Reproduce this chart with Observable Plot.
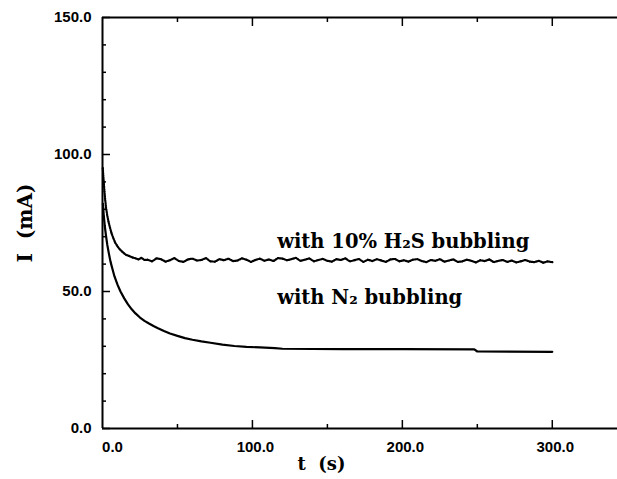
<!DOCTYPE html>
<html><head><meta charset="utf-8">
<script src="https://cdn.jsdelivr.net/npm/d3@7"></script>
<script src="https://cdn.jsdelivr.net/npm/@observablehq/plot@0.6"></script>
<style>body{margin:0;background:#fff}</style>
</head><body><div id="chart"></div>
<script>
// With N2 bubbling: time (s) and current (mA)
const n2T = [0.3, 0.8, 1.5, 2.3, 3.2, 4.2, 5.3, 6.5, 8, 10, 12, 14.5, 17, 19.5, 22, 25, 28, 31, 34, 37, 41, 45, 50, 55, 60, 66, 72, 80, 88, 96, 105, 115, 120, 160, 200, 248, 250, 300];
const n2I = [82, 78, 74, 70.5, 67, 64, 61, 58.5, 55.5, 52.5, 50, 47.5, 45.3, 43.5, 42, 40.5, 39.3, 38.3, 37.4, 36.6, 35.6, 34.7, 33.8, 33, 32.4, 31.8, 31.3, 30.6, 30.1, 29.8, 29.6, 29.3, 29.1, 29.0, 29.0, 28.9, 28.1, 28.0];

// With 10% H2S bubbling: time (s) and current (mA)
const h2sT = [0.2, 0.5, 0.9, 1.3, 1.8, 2.4, 3.1, 4, 5, 6, 7.2, 8.5, 10, 11.5, 13, 14.5, 16, 18, 20, 22, 24, 26, 28,
  30, 33, 36, 39, 42, 45, 48, 51, 54, 57, 60, 63, 66, 69, 72, 75, 78, 81, 84, 87, 90, 93, 96, 99, 102, 105, 108, 111, 114, 117,
  120, 123, 126, 129, 132, 135, 138, 141, 144, 147, 150, 153, 156, 159, 162, 165, 168, 171, 174, 177, 180, 183, 186, 189, 192, 195,
  198, 201, 204, 207, 210, 213, 216, 219, 222, 225, 228, 231, 234, 237, 240, 243, 246, 249, 252, 255, 258, 261, 264, 267, 270, 273,
  276, 279, 282, 285, 288, 291, 294, 297, 300];
const h2sI = [95, 92.5, 89.5, 86.5, 83.5, 80.5, 78, 75.5, 73.3, 71.3, 69.5, 67.8, 66.5, 65.4, 64.6, 63.9, 63.3, 62.9, 62.4, 62.1, 61.7, 62.3, 61.5,
  61.6, 61.0, 62.1, 61.8, 60.9, 61.4, 62.2, 61.1, 60.8, 61.7,
  62.0, 61.3, 61.5, 62.2, 61.0, 60.9, 61.8, 61.4, 62.0, 61.1,
  61.3, 62.1, 61.6, 60.8, 61.5, 62.0, 61.2, 61.7, 61.1, 62.2,
  62.0, 61.4, 61.8, 62.3, 61.2, 61.6, 62.1, 61.0, 61.5, 61.9,
  61.2, 60.9, 61.8, 61.5, 62.1, 61.0, 61.4, 61.9, 60.8, 61.6,
  61.1, 61.8, 61.3, 60.8, 61.7, 61.9, 61.0, 61.4, 60.9, 61.6,
  61.8, 61.1, 60.7, 61.5, 61.2, 61.8, 60.9, 61.3, 61.7, 60.8,
  61.0, 61.6, 61.2, 60.6, 61.4, 61.1, 61.7, 60.7, 61.2, 61.5,
  60.8, 61.3, 60.6, 61.0, 61.5, 60.9, 60.7, 61.2, 60.5, 61.0,
  60.7];

// Ticks
const xMajor = [100, 200, 300];
const xMinor = [50, 150, 250];
const xLabels = [100, 200, 300];
const yMajor = [0, 50, 100, 150];
const yMinor = [10, 20, 30, 40, 60, 70, 80, 90, 110, 120, 130, 140];

// Annotations
const notes = [
  {t: 116.5, I: 68.3, text: "with 10% H\u2082S bubbling"},
  {t: 116.5, I: 47.8, text: "with N\u2082 bubbling"}
];

const n2 = n2T.map((t, i) => ({t, I: n2I[i]}));
const h2s = h2sT.map((t, i) => ({t, I: h2sI[i]}));
const fmt = d => d.toFixed(1);
const tickFont = {fontFamily: "Liberation Sans, Arial, sans-serif", fontWeight: "bold", fontSize: 15};
const serif = {fontFamily: "DejaVu Serif, serif", fontWeight: "bold"};

const chart = Plot.plot({
  width: 617, height: 479,
  marginLeft: 102, marginRight: 0, marginTop: 17, marginBottom: 51,
  x: {domain: [0, 343.5]},
  y: {domain: [0, 150]},
  style: {background: "#fff", color: "#000", fontFamily: "Liberation Sans, Arial, sans-serif"},
  marks: [
    // frame lines
    Plot.ruleY([0, 150], {strokeWidth: 2}),
    Plot.ruleX([0], {strokeWidth: 2}),
    // inward ticks
    Plot.axisX(xMajor, {anchor: "bottom", tickSize: -8, tickFormat: () => "", strokeWidth: 1.5, label: null}),
    Plot.axisX(xMinor, {anchor: "bottom", tickSize: -4, tickFormat: () => "", strokeWidth: 1.5, label: null}),
    Plot.axisX(xMajor, {anchor: "top", tickSize: -8, tickFormat: () => "", strokeWidth: 1.5, label: null}),
    Plot.axisX(xMinor, {anchor: "top", tickSize: -4, tickFormat: () => "", strokeWidth: 1.5, label: null}),
    Plot.axisY(yMajor, {anchor: "left", tickSize: -8, tickFormat: () => "", strokeWidth: 1.5, label: null}),
    Plot.axisY(yMinor, {anchor: "left", tickSize: -4, tickFormat: () => "", strokeWidth: 1.5, label: null}),
    // tick labels
    Plot.axisX(xLabels, {anchor: "bottom", tickSize: 0, tickPadding: 13, tickFormat: fmt, dx: 3, label: null, ...tickFont}),
    Plot.axisX([0], {anchor: "bottom", tickSize: 0, tickPadding: 13, tickFormat: fmt, dx: 10, label: null, ...tickFont}),
    Plot.axisY(yMajor, {anchor: "left", tickSize: 0, tickPadding: 11, tickFormat: fmt, label: null, ...tickFont}),
    // axis titles
    Plot.text(["t  (s)"], {x: 146, frameAnchor: "bottom", dy: 36, lineAnchor: "middle", textAnchor: "middle", ...serif, fontSize: 18}),
    Plot.text(["I  (mA)"], {y: 75, frameAnchor: "left", dx: -77, rotate: -90, textAnchor: "middle", lineAnchor: "middle", ...serif, fontSize: 20}),
    // data
    Plot.line(h2s, {x: "t", y: "I", stroke: "#000", strokeWidth: 2.2, strokeDasharray: "1 1.3"}),
    Plot.dot(h2s, {x: "t", y: "I", r: 0.9, fill: "#000", stroke: null}),
    Plot.line(n2, {x: "t", y: "I", stroke: "#000", strokeWidth: 2.2}),
    // annotations
    Plot.text(notes, {x: "t", y: "I", text: "text", textAnchor: "start", ...serif, fontSize: 19.5})
  ]
});
document.getElementById("chart").appendChild(chart);
</script>
</body></html>
